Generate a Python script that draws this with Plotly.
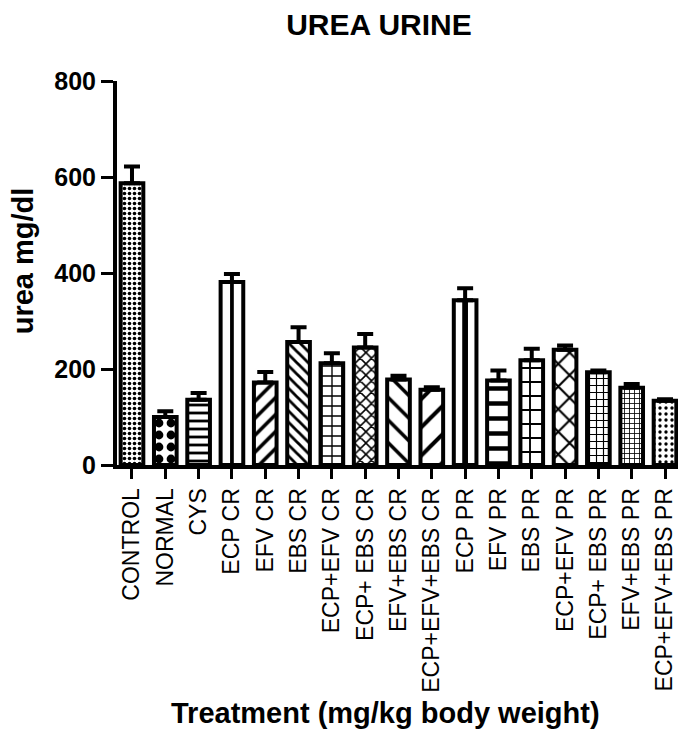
import plotly.graph_objects as go

# Urinary urea by treatment group (mean with upward SEM)
groups = ["CONTROL", "NORMAL", "CYS", "ECP CR", "EFV CR", "EBS CR",
          "ECP+EFV CR", "ECP+ EBS CR", "EFV+EBS CR", "ECP+EFV+EBS CR",
          "ECP PR", "EFV PR", "EBS PR", "ECP+EFV PR", "ECP+ EBS PR",
          "EFV+EBS PR", "ECP+EFV+EBS PR"]
urea_mean = [587, 100, 136, 381, 172, 256, 212, 245, 178, 157,
             343, 176, 218, 240, 193, 161, 134]
urea_sem = [35, 12, 14, 17, 22, 31, 21, 28, 8, 5,
            25, 21, 24, 9, 4, 8, 3]

# Fill patterns, one per group ("" = plain, centre stripe added below)
pat_shape = [".", ".", "-", "", "/", "\\", "+", "x", "\\", "/",
             "", "-", "+", "x", "+", "+", "."]
pat_size = [5, 12, 8, 10, 12, 8, 10, 8, 16, 20,
            10, 15, 14, 16, 7, 5, 6]
pat_solid = [0.4, 0.42, 0.35, 0.3, 0.3, 0.35, 0.25, 0.35, 0.22, 0.2,
             0.3, 0.3, 0.25, 0.25, 0.3, 0.3, 0.25]

# Groups whose bars carry a single centre stripe
stripe_groups = ["ECP CR", "ECP PR"]
stripe_values = [urea_mean[groups.index(g)] for g in stripe_groups]
stripe_widths = [0.08, 0.14]

FONT = "Liberation Sans, Arial, sans-serif"
TICKS_Y = [0, 200, 400, 600, 800]

fig = go.Figure()
fig.add_trace(go.Bar(
    x=groups,
    y=urea_mean,
    width=0.68,
    marker=dict(
        color="white",
        line=dict(color="black", width=4),
        pattern=dict(shape=pat_shape, size=pat_size, solidity=pat_solid,
                     fgcolor="black", bgcolor="white", fgopacity=1,
                     fillmode="replace"),
    ),
    error_y=dict(type="data", array=urea_sem,
                 arrayminus=[0] * len(urea_sem),
                 color="black", thickness=4, width=8),
))
fig.add_trace(go.Bar(
    x=stripe_groups,
    y=stripe_values,
    width=stripe_widths,
    marker=dict(color="black", line=dict(color="black", width=1)),
    hoverinfo="skip",
))

fig.update_layout(
    width=678, height=732,
    margin=dict(l=117, r=0, t=81, b=267),
    paper_bgcolor="white", plot_bgcolor="white",
    showlegend=False,
    barmode="overlay",
    title=dict(text="<b>UREA URINE</b>", x=0.559, xanchor="center",
               y=0.967, yanchor="middle",
               font=dict(family=FONT, size=30, color="black")),
    font=dict(family=FONT, color="black"),
    annotations=[
        dict(text="<b>Treatment (mg/kg body weight)</b>",
             xref="paper", yref="paper", x=0.4795, y=-0.6458,
             xanchor="center", yanchor="middle", showarrow=False,
             font=dict(family=FONT, size=29, color="black")),
        dict(text="<b>urea mg/dl</b>",
             xref="paper", yref="paper", x=-0.167, y=0.5313,
             xanchor="center", yanchor="middle", showarrow=False,
             textangle=-90,
             font=dict(family=FONT, size=29, color="black")),
    ],
)

fig.update_xaxes(
    range=[-0.45, 16.39],
    showline=True, linecolor="black", linewidth=4,
    ticks="outside", ticklen=10, tickwidth=3, tickcolor="black",
    tickangle=-90,
    tickfont=dict(family=FONT, size=23, color="black"),
    showgrid=False, zeroline=False,
)

fig.update_yaxes(
    range=[0, 800],
    tickvals=TICKS_Y,
    ticktext=["<b>%d</b>" % v for v in TICKS_Y],
    showline=True, linecolor="black", linewidth=4,
    ticks="outside", ticklen=12, tickwidth=3, tickcolor="black",
    tickfont=dict(family=FONT, size=25, color="black"),
    showgrid=False, zeroline=False,
)

fig.write_html("out.html")
